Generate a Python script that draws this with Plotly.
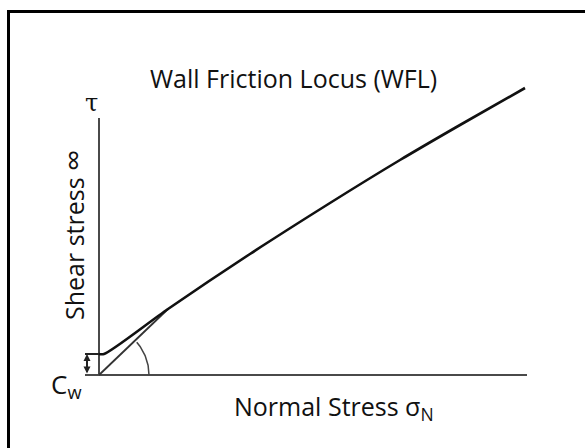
import numpy as np
import plotly.graph_objects as go

# Wall friction locus (schematic): normal stress vs shear stress, arbitrary units
normal_stress = [0.0, 1.25, 17.25, 37.75, 57.75, 75.25, 90.25, 106.5]
shear_stress = [5.25, 5.25, 16.5, 30.25, 43.0, 53.75, 62.5, 71.75]

# Wall adhesion c_w (intercept) and secant to the contact point
cohesion_w = 5.25
secant_x = [0.0, 17.25]
secant_y = [0.0, 16.5]

# Axis extents
x_axis_span = [-3.5, 107.0]
y_axis_span = [0.0, 64.25]

# Arc marking the wall friction angle
arc_radius = 12.5
arc_angle_deg = 41.0

W, H = 585, 448
ox, oy, scale = 99.0, 375.0, 4.0  # pixel origin and pixels per unit

def px(x):
    return x / W

def py(y):
    return 1 - y / H

line_col = "#4a4a4a"
fig = go.Figure()

# axes
fig.add_trace(go.Scatter(x=x_axis_span, y=[0, 0], mode="lines",
                         line=dict(color=line_col, width=2), hoverinfo="skip"))
fig.add_trace(go.Scatter(x=[0, 0], y=y_axis_span, mode="lines",
                         line=dict(color=line_col, width=2), hoverinfo="skip"))

# c_w tick
fig.add_trace(go.Scatter(x=[-3.5, 0.0], y=[cohesion_w, cohesion_w], mode="lines",
                         line=dict(color="#222", width=2), hoverinfo="skip"))

# secant from origin
fig.add_trace(go.Scatter(x=secant_x, y=secant_y, mode="lines",
                         line=dict(color="#333", width=1.8), hoverinfo="skip"))

# angle arc
t = np.linspace(0, np.radians(arc_angle_deg), 40)
fig.add_trace(go.Scatter(x=arc_radius * np.cos(t), y=arc_radius * np.sin(t), mode="lines",
                         line=dict(color="#444", width=1.5), hoverinfo="skip"))

# WFL curve
fig.add_trace(go.Scatter(x=normal_stress, y=shear_stress, mode="lines",
                         line=dict(color="#111", width=2.6, shape="spline", smoothing=0.8),
                         hoverinfo="skip"))

font = "Open Sans, Noto Sans, sans-serif"

def label(text, x, y, size, family=font, angle=0):
    return dict(text=text, x=px(x), y=py(y), xref="paper", yref="paper",
                xanchor="center", yanchor="middle", textangle=angle,
                showarrow=False, font=dict(family=family, size=size, color="#111"))

annotations = [
    label("Wall Friction Locus (WFL)", 293, 78, 25),
    label("Normal Stress σ<sub>N</sub>", 334, 407, 25),
    label('Shear stress <span style="font-size:30px">∞</span>', 72, 235, 25, angle=-90),
    label("τ", 91, 103, 24, family="DejaVu Serif, serif"),
    label("C<sub>w</sub>", 66, 385, 26),
    # double-headed arrow for c_w
    dict(x=-3.0, y=cohesion_w, ax=-3.0, ay=0, xref="x", yref="y", axref="x", ayref="y",
         text="", showarrow=True, arrowhead=2, arrowside="end+start", arrowsize=0.7,
         arrowwidth=2, arrowcolor="#222"),
]

fig.update_layout(
    width=W, height=H, margin=dict(l=0, r=0, t=0, b=0),
    paper_bgcolor="white", plot_bgcolor="white", showlegend=False,
    xaxis=dict(range=[-ox / scale, (W - ox) / scale], visible=False, fixedrange=True),
    yaxis=dict(range=[(oy - H) / scale, oy / scale], visible=False, fixedrange=True),
    annotations=annotations,
    shapes=[dict(type="rect", xref="paper", yref="paper", x0=px(8.5), x1=1.2,
                 y0=-0.2, y1=py(11.5), line=dict(color="black", width=3))],
)

fig.write_html("out.html")
